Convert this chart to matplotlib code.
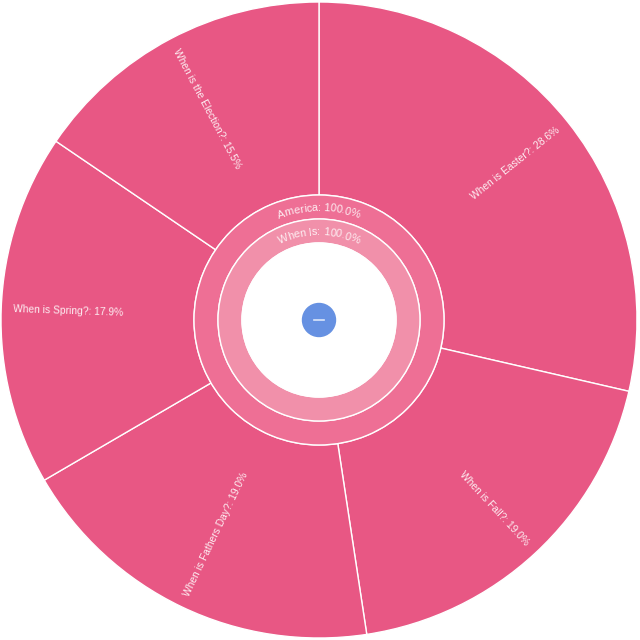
import numpy as np
import matplotlib
matplotlib.use("Agg")
import matplotlib.pyplot as plt
from matplotlib.font_manager import FontProperties
from matplotlib.patches import Circle

outer_labels = ["When is Easter?", "When is Fall?", "When is Fathers Day?",
                "When is Spring?", "When is the Election?"]
outer_values = [28.6, 19.0, 19.0, 17.9, 15.5]
middle_labels = ["When Is"]
middle_values = [100.0]
root_labels = ["America"]
root_values = [100.0]

outer_color = '#e85784'
root_color = '#ee6f95'
middle_color = '#f190aa'
text_color = '#fdeef2'
font = 'Liberation Sans'

cx, cy = -1, 0

fig = plt.figure(figsize=(6.4, 6.4), dpi=100)
ax = fig.add_axes([0, 0, 1, 1])

wp = dict(edgecolor='white', linewidth=1)
ax.pie(outer_values, radius=318, startangle=90, counterclock=False, center=(cx, cy),
       colors=[outer_color] * len(outer_values), wedgeprops=dict(width=193, **wp))
ax.pie(root_values, radius=125, startangle=90, counterclock=False, center=(cx, cy),
       colors=[root_color], wedgeprops=dict(width=24, **wp))
ax.pie(middle_values, radius=101, startangle=90, counterclock=False, center=(cx, cy),
       colors=[middle_color], wedgeprops=dict(width=24, **wp))
ax.add_patch(Circle((cx, cy), 77, color='white', zorder=3))

ax.set_xlim(-320, 320)
ax.set_ylim(-320, 320)
ax.set_aspect('equal')
ax.axis('off')

# radial labels on the outer ring, pinned near the outer edge
total = sum(outer_values)
start = 90.0
for lab, v in zip(outer_labels, outer_values):
    span = v / total * 360
    mid = start - span / 2
    start -= span
    a = np.deg2rad(mid)
    r = 306
    rot = mid
    ha = 'right'
    if rot > 90 or rot < -90:
        rot += 180
        ha = 'left'
    rot = (rot + 180) % 360 - 180
    ax.text(cx + r * np.cos(a), cy + r * np.sin(a), f"{lab}: {v:.1f}%",
            rotation=rot, rotation_mode='anchor', ha=ha, va='center',
            fontsize=7.4, color=text_color, family=font)

# curved labels on the inner rings
renderer = fig.canvas.get_renderer()


def text_w(s, fp):
    return renderer.get_text_width_height_descent(s, fp, ismath=False)[0]


def arc_text(s, r, size):
    fp = FontProperties(family=font, size=size)
    bar = text_w("|", fp)
    pos = [0.0] + [text_w(s[:i + 1] + "|", fp) - bar for i in range(len(s))]
    W = pos[-1]
    for i, ch in enumerate(s):
        c = (pos[i] + pos[i + 1]) / 2
        ang = np.pi / 2 + (W / 2 - c) / r
        ax.text(cx + r * np.cos(ang), cy + r * np.sin(ang), ch,
                rotation=np.rad2deg(ang) - 90, rotation_mode='anchor',
                ha='center', va='center', fontsize=size, color=text_color,
                family=font, zorder=4)


arc_text(f"{root_labels[0]}: {root_values[0]:.1f}%", 112, 7.9)
arc_text(f"{middle_labels[0]}: {middle_values[0]:.1f}%", 88, 7.9)

ax.add_patch(Circle((cx, cy), 16.5, color='#6691e2', zorder=5))
ax.plot([cx - 5, cx + 5], [cy, cy], color='#dbe6fa', lw=1.2, zorder=6)

fig.savefig('out.png', dpi=100)
